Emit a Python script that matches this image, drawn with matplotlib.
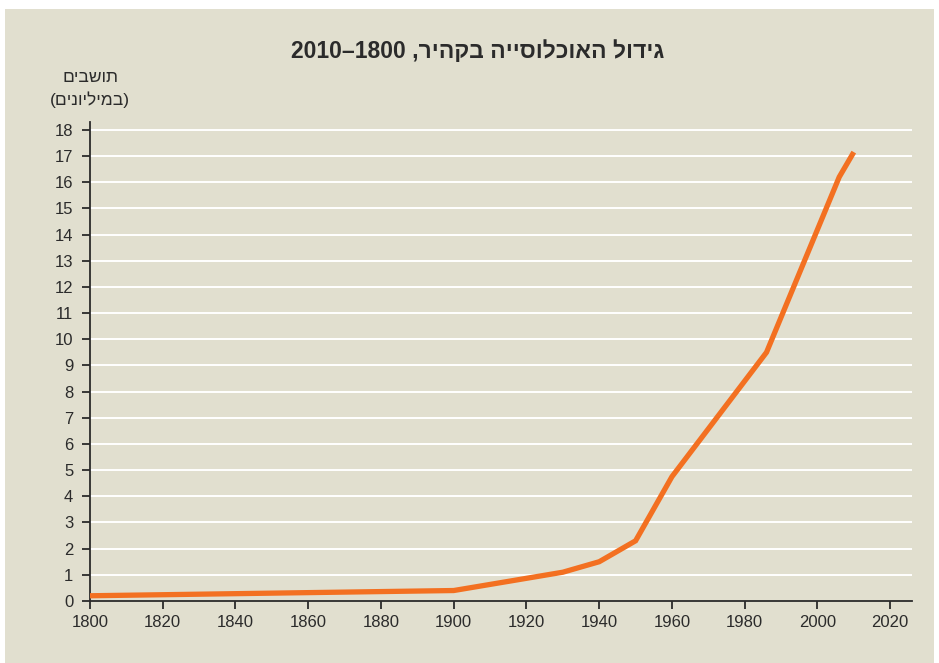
import matplotlib
matplotlib.use("Agg")
import matplotlib.pyplot as plt
from matplotlib.patches import Rectangle

plt.rcParams['font.family'] = ['Liberation Sans', 'DejaVu Sans']

# נתונים: אוכלוסיית קהיר (מיליונים)
years = [1800, 1900, 1930, 1940, 1950, 1960, 1986, 2006, 2010]
population = [0.2, 0.4, 1.1, 1.5, 2.3, 4.75, 9.5, 16.2, 17.15]

x_ticks = list(range(1800, 2021, 20))
y_ticks = list(range(0, 19))

title_text = "גידול האוכלוסייה בקהיר, 1800–2010"
ylabel_lines = ["תושבים", "(במיליונים)"]

bg = '#e1dfcf'
orange = '#f37021'
dark = '#2b2b2b'


def rtl(s):
    # matplotlib has no bidi support, so flip Hebrew runs to visual order
    mirror = {'(': ')', ')': '('}
    return ''.join(mirror.get(c, c) for c in s[::-1])


fig = plt.figure(figsize=(9.39, 6.63), dpi=100)
fig.patch.set_facecolor('white')
fig.patches.append(Rectangle((5 / 939, 0), 929 / 939, 654 / 663,
                             transform=fig.transFigure, facecolor=bg,
                             edgecolor='none', zorder=-10))

ax = fig.add_axes([90 / 939, 62 / 663, 822 / 939, 479 / 663])
ax.set_facecolor(bg)
ax.patch.set_alpha(0)

ax.plot(years, population, color=orange, lw=3.8, solid_joinstyle='miter',
        solid_capstyle='butt', zorder=3)

ax.set_xlim(1800, 2026)
ax.set_ylim(0, 18.3)
ax.set_xticks(x_ticks)
ax.set_yticks(y_ticks)

for y in y_ticks[1:]:
    ax.axhline(y, color='white', lw=1.4, zorder=1)

for s in ['top', 'right']:
    ax.spines[s].set_visible(False)
for s in ['left', 'bottom']:
    ax.spines[s].set_color(dark)
    ax.spines[s].set_linewidth(1.3)

ax.tick_params(axis='both', colors=dark, labelcolor=dark, labelsize=12,
               width=1.3, length=6, direction='out')
ax.tick_params(axis='x', pad=4)
ax.tick_params(axis='y', pad=6)

# build title as visual string: numbers stay LTR, Hebrew reversed
heb_part, num_part = title_text.split(', ')
a, b = num_part.split('–')
title_visual = f"{b}–{a} ," + rtl(heb_part)
fig.text(478 / 939, 1 - 52 / 663, title_visual, ha='center', va='center',
         fontsize=16.5, fontweight='bold', color=dark)

fig.text(90 / 939, 1 - 77 / 663, rtl(ylabel_lines[0]), ha='center',
         va='center', fontsize=12.5, color=dark)
fig.text(90 / 939, 1 - 100 / 663, rtl(ylabel_lines[1]), ha='center',
         va='center', fontsize=12.5, color=dark)

fig.savefig('out.png', dpi=100, facecolor=fig.get_facecolor())
